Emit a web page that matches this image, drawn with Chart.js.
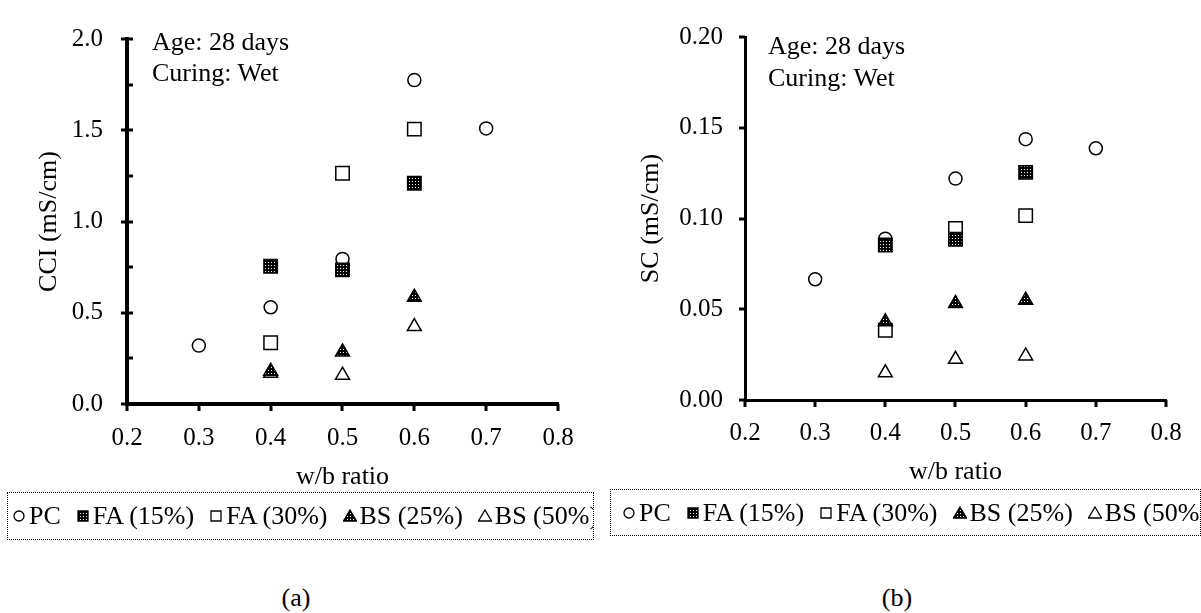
<!DOCTYPE html>
<html>
<head>
<meta charset="utf-8">
<script src="https://cdn.jsdelivr.net/npm/chart.js@4.4.0/dist/chart.umd.min.js"></script>
<style>
  body {
    margin: 0;
    background: #fff;
    width: 1201px;
    height: 613px;
    overflow: hidden;
    position: relative;
    font-family: "Liberation Serif", "Times New Roman", serif;
    color: #000;
  }
  canvas.chart { position: absolute; top: 0; }
  #chartA { left: 0; }
  #chartB { left: 600px; }
  .note { position: absolute; font-size: 26px; line-height: 31px; }
  .legend {
    position: absolute;
    box-sizing: border-box;
    border: 1px dotted #000;
    overflow: hidden;
    white-space: nowrap;
    font-size: 26px;
    display: flex;
    align-items: center;
  }
  .legend .item { display: inline-flex; align-items: center; margin-right: 15px; }
  .legend canvas { margin-right: 3px; }
  .caption { position: absolute; font-size: 26px; transform: translate(-50%, -50%); }
</style>
</head>
<body>
<canvas id="chartA" class="chart" width="600" height="500"></canvas>
<canvas id="chartB" class="chart" width="601" height="500"></canvas>

<div class="note" style="left:152px; top:26px;">Age: 28 days<br>Curing: Wet</div>
<div class="note" style="left:768px; top:30px; line-height:32px;">Age: 28 days<br>Curing: Wet</div>

<div class="legend" id="legendA" style="left:7px; top:492px; width:587px; height:48px; padding-left:4px;"></div>
<div class="legend" id="legendB" style="left:610px; top:489px; width:591px; height:47px; padding-left:11px;"></div>

<div class="caption" style="left:296px; top:598px;">(a)</div>
<div class="caption" style="left:897px; top:598px;">(b)</div>

<script>
// Series
const seriesNames = ["PC", "FA (15%)", "FA (30%)", "BS (25%)", "BS (50%)"];
const wbPC = [0.3, 0.4, 0.5, 0.6, 0.7];
const wbBlend = [0.4, 0.5, 0.6];

// (a) CCI (mS/cm)
const cciPC = [0.32, 0.53, 0.795, 1.775, 1.51];
const cciFA15 = [0.755, 0.735, 1.21];
const cciFA30 = [0.336, 1.264, 1.506];
const cciBS25 = [0.18, 0.285, 0.585];
const cciBS50 = [0.168, 0.158, 0.424];

// (b) SC (mS/cm)
const scPC = [0.0665, 0.0889, 0.122, 0.1437, 0.1387];
const scFA15 = [0.0854, 0.0886, 0.1254];
const scFA30 = [0.0384, 0.0945, 0.1016];
const scBS25 = [0.0431, 0.0532, 0.055];
const scBS50 = [0.015, 0.0224, 0.0243];

// Axis labels
const xTitle = "w/b ratio";
const yTitleA = "CCI (mS/cm)";
const yTitleB = "SC (mS/cm)";

const family = "'Liberation Serif', 'Times New Roman', serif";
Chart.defaults.font.family = family;
Chart.defaults.color = "#000";

// dark fill with white dots, like the hatched markers
function makePattern() {
    const c = document.createElement("canvas");
    c.width = 3;
    c.height = 3;
    const g = c.getContext("2d");
    g.fillStyle = "#000";
    g.fillRect(0, 0, 3, 3);
    g.fillStyle = "#fff";
    g.fillRect(1, 1, 1, 1);
    return g.createPattern(c, "repeat");
}
const dotPattern = makePattern();

const markerStyles = [
    { pointStyle: "circle", radius: 6.5, patterned: false, order: 5 },
    { pointStyle: "rect", radius: 9.5, patterned: true, order: 1 },
    { pointStyle: "rect", radius: 9.5, patterned: false, order: 4 },
    { pointStyle: "triangle", radius: 8, patterned: true, order: 2 },
    { pointStyle: "triangle", radius: 8, patterned: false, order: 3 },
];

function buildDatasets(values) {
    return seriesNames.map((name, i) => {
        const xs = i === 0 ? wbPC : wbBlend;
        const m = markerStyles[i];
        return {
            label: name,
            data: values[i].map((v, k) => ({ x: xs[k], y: v })),
            pointStyle: m.pointStyle,
            pointRadius: m.radius,
            pointHoverRadius: m.radius,
            pointBorderWidth: 1.5,
            pointBorderColor: "#000",
            pointBackgroundColor: m.patterned ? dotPattern : "#fff",
            showLine: false,
            order: m.order,
        };
    });
}

// Tick marks drawn along the axes (major + optional minor)
const axisTicks = {
    id: "axisTicks",
    afterDraw(chart, args, opts) {
        const ctx = chart.ctx;
        const xs = chart.scales.x;
        const ys = chart.scales.y;
        const left = chart.chartArea.left;
        const bottom = chart.chartArea.bottom;
        ctx.save();
        ctx.strokeStyle = "#000";
        ctx.lineWidth = opts.width;
        ctx.beginPath();
        xs.ticks.forEach((t) => {
            const px = Math.round(xs.getPixelForValue(t.value));
            ctx.moveTo(px, bottom);
            ctx.lineTo(px, bottom + opts.xOut);
        });
        ys.ticks.forEach((t, i) => {
            const py = Math.round(ys.getPixelForValue(t.value));
            ctx.moveTo(left - opts.yOut, py);
            ctx.lineTo(left + opts.yIn, py);
            if (opts.minor && i > 0) {
                const mid = Math.round(ys.getPixelForValue((t.value + ys.ticks[i - 1].value) / 2));
                ctx.moveTo(left, mid);
                ctx.lineTo(left + opts.minor, mid);
            }
        });
        ctx.stroke();
        ctx.restore();
    },
};

function createPanel(canvasId, values, p) {
    const ctx = document.getElementById(canvasId).getContext("2d");
    new Chart(ctx, {
        type: "scatter",
        data: { datasets: buildDatasets(values) },
        options: {
            responsive: false,
            animation: false,
            events: [],
            layout: { padding: { left: 0, top: p.padTop, right: p.padRight, bottom: 0 } },
            plugins: {
                legend: { display: false },
                tooltip: { enabled: false },
                axisTicks: { width: 3, xOut: 7, yOut: 6, yIn: p.tickIn, minor: p.minor },
            },
            scales: {
                x: {
                    type: "linear",
                    min: 0.2,
                    max: 0.8,
                    ticks: {
                        stepSize: 0.1,
                        padding: p.xTickPad,
                        font: { size: 25 },
                        maxRotation: 0,
                        autoSkip: false,
                        callback: (v) => v.toFixed(1),
                    },
                    grid: { display: false, drawTicks: false },
                    border: { display: true, color: "#000", width: p.axisWidth },
                    title: {
                        display: true,
                        text: xTitle,
                        font: { size: 26 },
                        padding: { top: 0, bottom: p.xTitlePad },
                    },
                    afterFit: (s) => { s.height = p.xHeight; },
                },
                y: {
                    type: "linear",
                    min: 0,
                    max: p.yMax,
                    ticks: {
                        stepSize: p.yStep,
                        padding: p.yTickPad,
                        font: { size: 25 },
                        callback: (v) => v.toFixed(p.yDecimals),
                    },
                    grid: { display: false, drawTicks: false },
                    border: { display: true, color: "#000", width: p.axisWidth },
                    title: {
                        display: true,
                        text: p.yTitle,
                        font: { size: 26 },
                        padding: { top: p.yTitlePad, bottom: 0 },
                    },
                    afterFit: (s) => { s.width = p.yWidth; },
                },
            },
        },
        plugins: [axisTicks],
    });
}

createPanel("chartA", [cciPC, cciFA15, cciFA30, cciBS25, cciBS50], {
    yTitle: yTitleA, yMax: 2, yStep: 0.5, yDecimals: 1,
    axisWidth: 4, tickIn: 6, minor: 6,
    yWidth: 127, xHeight: 96, padTop: 22, padRight: 42,
    yTickPad: 24, xTickPad: 19, yTitlePad: 34, xTitlePad: 7,
});

createPanel("chartB", [scPC, scFA15, scFA30, scBS25, scBS50], {
    yTitle: yTitleB, yMax: 0.2, yStep: 0.05, yDecimals: 2,
    axisWidth: 3, tickIn: 0, minor: 0,
    yWidth: 145, xHeight: 100, padTop: 22, padRight: 35,
    yTickPad: 22, xTickPad: 18, yTitlePad: 36, xTitlePad: 12,
});

// Legend icons
function drawIcon(canvas, i) {
    const g = canvas.getContext("2d");
    const m = markerStyles[i];
    const c = 7;
    g.lineWidth = 1.3;
    g.strokeStyle = "#000";
    g.fillStyle = m.patterned ? dotPattern : "#fff";
    g.beginPath();
    if (m.pointStyle === "circle") {
        g.arc(c, c, 5, 0, Math.PI * 2);
    } else if (m.pointStyle === "rect") {
        g.rect(c - 5, c - 5, 10, 10);
    } else {
        g.moveTo(c, c - 6);
        g.lineTo(c + 6.5, c + 5);
        g.lineTo(c - 6.5, c + 5);
        g.closePath();
    }
    g.fill();
    g.stroke();
}

function buildLegend(id) {
    const box = document.getElementById(id);
    seriesNames.forEach((name, i) => {
        const item = document.createElement("span");
        item.className = "item";
        const icon = document.createElement("canvas");
        icon.width = 14;
        icon.height = 14;
        drawIcon(icon, i);
        const label = document.createElement("span");
        label.textContent = name;
        item.appendChild(icon);
        item.appendChild(label);
        box.appendChild(item);
    });
}
buildLegend("legendA");
buildLegend("legendB");
</script>
</body>
</html>
